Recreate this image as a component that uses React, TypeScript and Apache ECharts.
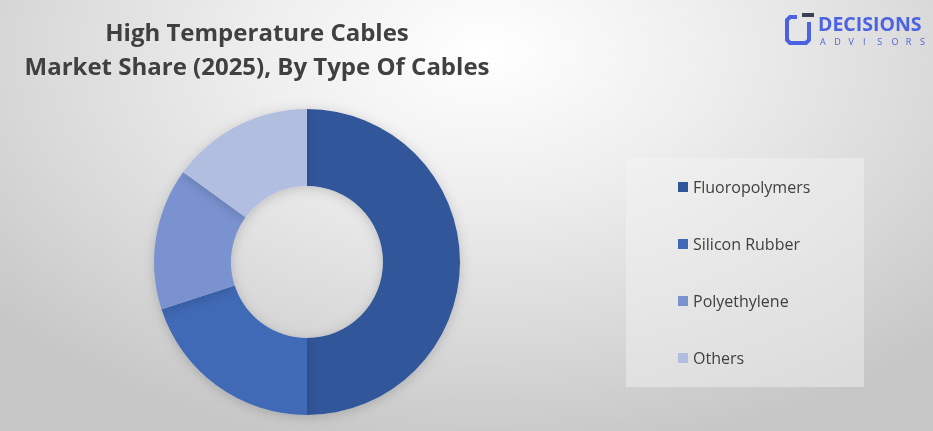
import React, { useEffect, useRef } from "react";
import * as echarts from "echarts";

const categories = ["Fluoropolymers", "Silicon Rubber", "Polyethylene", "Others"];
const shares = [50, 20, 15, 15];
const colors = ["#30579A", "#3F69B6", "#7A92D0", "#B2BEE0"];
const titleLines = ["High Temperature Cables", "Market Share (2025), By Type Of Cables"];
const subBrand = "ADVISORS";

export default function App() {
  const ref = useRef<HTMLDivElement>(null);
  useEffect(() => {
    if (!ref.current) return;
    const chart = echarts.init(ref.current, undefined, { renderer: "svg" });
    const data = categories.map((name, i) => ({ name, value: shares[i], itemStyle: { color: colors[i] } }));
    const letters = subBrand.split("").map((ch, i) => ({
      type: "text",
      style: { text: ch, x: 820 + i * 14.3, y: 37, fill: "#4B63E2", font: "9px 'Open Sans'" },
    }));
    chart.setOption({
      animation: false,
      backgroundColor: "transparent",
      title: {
        text: titleLines.join("\n"),
        left: 257,
        top: 14,
        padding: 0,
        textAlign: "center",
        textStyle: {
          fontFamily: "Open Sans",
          fontWeight: "bold",
          fontSize: 24,
          lineHeight: 34,
          color: "#404040",
        },
      },
      legend: {
        orient: "vertical",
        left: 678,
        top: 177,
        padding: 0,
        icon: "rect",
        itemWidth: 10,
        itemHeight: 10,
        itemGap: 37,
        data: categories,
        textStyle: { fontFamily: "Open Sans", fontSize: 16, color: "#404040", lineHeight: 20 },
      },
      graphic: [
        {
          type: "rect",
          shape: { x: 626, y: 158, width: 238, height: 229 },
          style: { fill: "rgba(245,245,245,0.45)" },
          z: -1,
        },
        {
          type: "polyline",
          shape: { points: [[797, 17], [790, 17], [787, 20], [787, 40], [790, 43], [806, 43], [809, 40], [809, 22]] },
          style: { stroke: "#4B63E2", lineWidth: 4, fill: "none" },
        },
        { type: "rect", shape: { x: 802, y: 13, width: 12, height: 4 }, style: { fill: "#3a3f55" } },
        {
          type: "text",
          style: { text: "DECISIONS", x: 818, y: 13, fill: "#4B63E2", font: "bold 19.5px 'Open Sans'" },
        },
        ...letters,
      ],
      series: [
        {
          type: "pie",
          center: [307, 262],
          radius: [76, 153],
          startAngle: 90,
          clockwise: true,
          label: { show: false },
          labelLine: { show: false },
          emphasis: { disabled: true },
          itemStyle: { shadowBlur: 12, shadowColor: "rgba(0,0,0,0.18)", shadowOffsetY: 2 },
          data,
        },
      ],
    });
    return () => chart.dispose();
  }, []);
  return (
    <div
      ref={ref}
      style={{
        position: "fixed",
        left: 0,
        top: 0,
        width: 933,
        height: 431,
        background: "radial-gradient(ellipse 70% 95% at 52% 12%, #ffffff 0%, #eeeeee 35%, #d9d9d9 70%, #c6c6c6 100%)",
      }}
    />
  );
}
